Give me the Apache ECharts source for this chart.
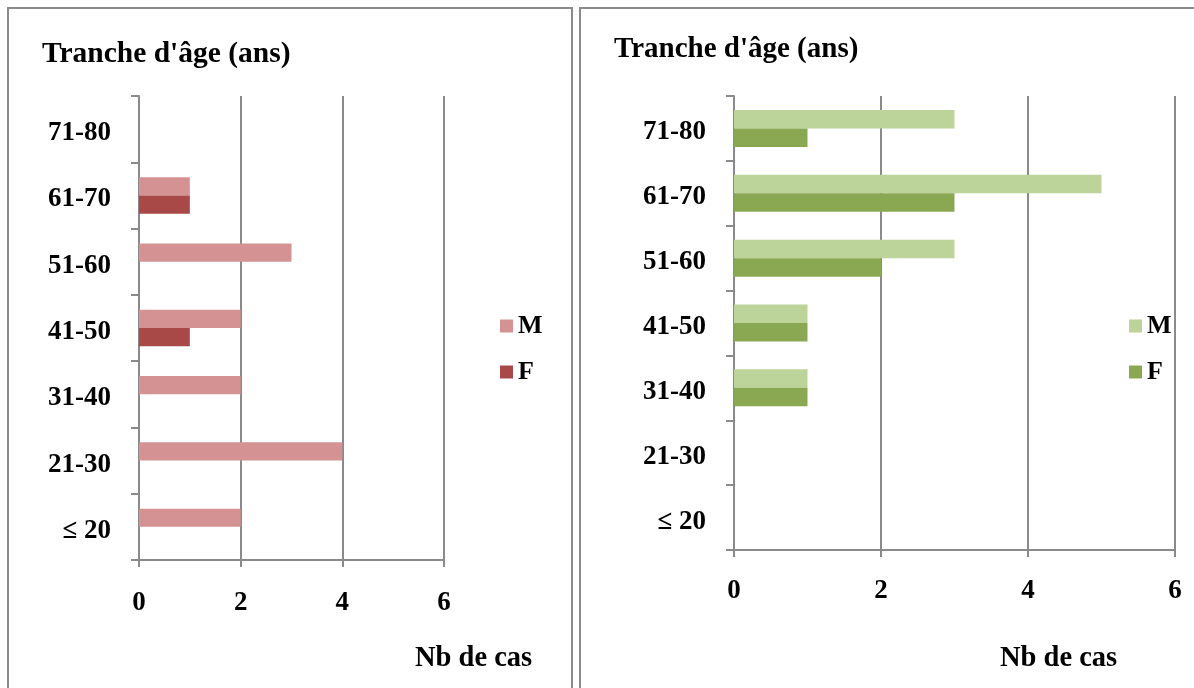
<!DOCTYPE html>
<html>
<head>
<meta charset="utf-8">
<script src="https://cdn.jsdelivr.net/npm/echarts@6/dist/echarts.min.js"></script>
<style>
  html, body { margin: 0; padding: 0; background: #ffffff; }
  #chart { width: 1194px; height: 688px; }
</style>
</head>
<body>
<div id="chart"></div>
<script>
// Age groups, bottom to top
const ageGroups = ['≤ 20', '21-30', '31-40', '41-50', '51-60', '61-70', '71-80'];
const caseTicks = [0, 2, 4, 6];

// Left panel: number of cases by sex
const leftM = [2, 4, 2, 2, 3, 1, 0];
const leftF = [0, 0, 0, 1, 0, 1, 0];

// Right panel: number of cases by sex
const rightM = [0, 0, 1, 1, 3, 5, 3];
const rightF = [0, 0, 1, 1, 2, 3, 1];

const yAxisTitle = "Tranche d'âge (ans)";
const xAxisTitle = 'Nb de cas';

const FONT = '"Liberation Serif", "Times New Roman", serif';
const GRAY = '#8a8a8a';

const boldText = (size) => ({
  fontFamily: FONT, fontWeight: 'bold', fontSize: size, color: '#000'
});

function valueAxis(gridIndex, margin) {
  return {
    type: 'value', gridIndex,
    min: caseTicks[0], max: caseTicks[caseTicks.length - 1],
    interval: caseTicks[1] - caseTicks[0],
    axisLine: { show: true, lineStyle: { color: GRAY, width: 2 } },
    axisTick: { show: true, length: 7, lineStyle: { color: GRAY, width: 2 } },
    splitLine: { show: true, lineStyle: { color: GRAY, width: 2 } },
    axisLabel: Object.assign({ margin }, boldText(27))
  };
}

function categoryAxis(gridIndex) {
  return {
    type: 'category', gridIndex, data: ageGroups,
    axisLine: { show: true, lineStyle: { color: GRAY, width: 2 } },
    axisTick: { show: true, length: 8, lineStyle: { color: GRAY, width: 2 } },
    splitLine: { show: false },
    axisLabel: {
      margin: 28,
      formatter: (v) => '{g|' + v + '}',
      rich: { g: Object.assign({ padding: [8, 0, 0, 0] }, boldText(27)) }
    }
  };
}

function barSeries(id, data, color, gridIndex, gap) {
  return {
    type: 'bar', name: id, data,
    xAxisIndex: gridIndex, yAxisIndex: gridIndex,
    barGap: '0%', barCategoryGap: gap,
    itemStyle: { color, borderWidth: 0 },
    silent: true
  };
}

const chart = echarts.init(document.getElementById('chart'), null, { renderer: 'canvas' });

chart.setOption({
  animation: false,
  backgroundColor: '#ffffff',
  graphic: [
    { type: 'rect', shape: { x: 8, y: 8, width: 564, height: 700 },
      style: { fill: 'none', stroke: GRAY, lineWidth: 2 }, z: -10 },
    { type: 'rect', shape: { x: 580, y: 8, width: 630, height: 700 },
      style: { fill: 'none', stroke: GRAY, lineWidth: 2 }, z: -10 }
  ],
  title: [
    { text: yAxisTitle, left: 42, top: 39, padding: 0, textStyle: boldText(29.5) },
    { text: yAxisTitle, left: 614, top: 35, padding: 0, textStyle: boldText(29) },
    { text: xAxisTitle, left: 415, top: 644, padding: 0, textStyle: boldText(28.5) },
    { text: xAxisTitle, left: 1000, top: 644, padding: 0, textStyle: boldText(28.5) }
  ],
  legend: [
    { orient: 'vertical', left: 500, top: 313, padding: 0, itemGap: 20,
      itemWidth: 13, itemHeight: 13, icon: 'rect',
      data: ['M_l', 'F_l'], formatter: (n) => n.charAt(0),
      textStyle: boldText(26), selectedMode: false },
    { orient: 'vertical', left: 1129, top: 313, padding: 0, itemGap: 20,
      itemWidth: 13, itemHeight: 13, icon: 'rect',
      data: ['M_r', 'F_r'], formatter: (n) => n.charAt(0),
      textStyle: boldText(26), selectedMode: false }
  ],
  grid: [
    { left: 139, top: 96, width: 305, height: 464, containLabel: false },
    { left: 734, top: 96, width: 441, height: 454, containLabel: false }
  ],
  xAxis: [valueAxis(0, 30), valueAxis(1, 28)],
  yAxis: [categoryAxis(0), categoryAxis(1)],
  series: [
    barSeries('M_l', leftM, '#d59292', 0, '45%'),
    barSeries('F_l', leftF, '#a94947', 0, '45%'),
    barSeries('M_r', rightM, '#bcd399', 1, '43%'),
    barSeries('F_r', rightF, '#8aa852', 1, '43%')
  ]
});
</script>
</body>
</html>
